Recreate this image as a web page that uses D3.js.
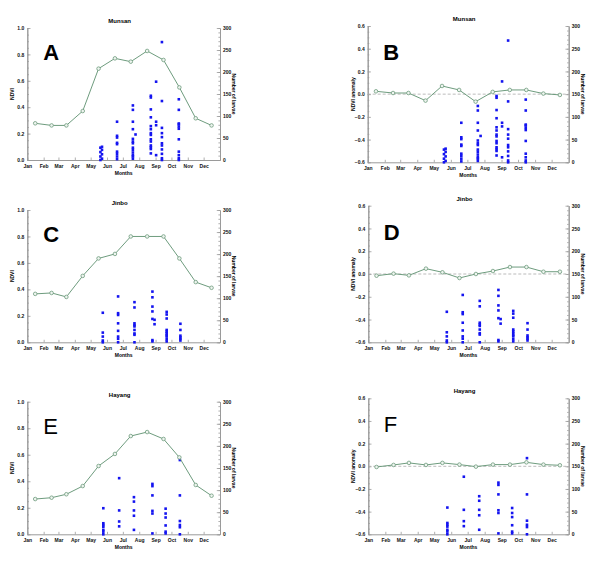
<!DOCTYPE html>
<html><head><meta charset="utf-8">
<script src="https://cdn.jsdelivr.net/npm/d3@7"></script>
<style>
body{margin:0;background:#fff}
svg{display:block}
text{font-family:"Liberation Sans",Arial,Helvetica,sans-serif}
</style>
</head><body>
<svg id="chart" width="600" height="569"></svg>
<script>
// ---------- DATA ----------
const monthLabels = ["Jan","Feb","Mar","Apr","May","Jun","Jul","Aug","Sep","Oct","Nov","Dec"];
const monthStartDays = [0,31,59,90,120,151,181,212,243,273,304,334];
const monthMidDays = [15,46,74,105,135,166,196,227,258,288,319,349];

const ndviTicks = [0,0.2,0.4,0.6,0.8,1.0];
const anomTicks = [-0.6,-0.4,-0.2,0,0.2,0.4,0.6];
const larvaeTicks = [0,50,100,150,200,250,300];

const ndviMunsan = [0.278,0.262,0.262,0.371,0.692,0.770,0.745,0.826,0.758,0.550,0.316,0.262];
const ndviJinbo  = [0.366,0.373,0.343,0.502,0.634,0.668,0.800,0.800,0.800,0.634,0.455,0.412];
const ndviHayang = [0.266,0.276,0.302,0.364,0.515,0.606,0.741,0.771,0.719,0.580,0.372,0.291];

const anomMunsan = [0.025,0.010,0.010,-0.057,0.072,0.037,-0.066,0.020,0.037,0.037,0.005,-0.007];
const anomJinbo  = [-0.015,0.003,-0.012,0.047,0.015,-0.035,0.000,0.026,0.061,0.061,0.020,0.020];
const anomHayang = [-0.006,0.012,0.030,0.012,0.030,0.015,-0.003,0.015,0.015,0.035,0.015,0.009];

// larval counts per sampling day (day of year)
const larvaeMunsan = [
  {day:138.5, counts:[28,18,8,0]},
  {day:141.5, counts:[30,23,13,3]},
  {day:170, counts:[87,55,51,39,36,19,14,8,2]},
  {day:200, counts:[124,114,87,70,48,42,38,28,23,17,11,8,3]},
  {day:205, counts:[58]},
  {day:234, counts:[146,142,115,97,77,70,61,57,47,42,33,29,25,15]},
  {day:244, counts:[178,87,79,11]},
  {day:255, counts:[268,134,73,61,52,38,33,24,14,4,0]},
  {day:287, counts:[138,114,83,81,76,71,47,19,11,4,0]}
];
const larvaeJinbo = [
  {day:143, counts:[67,22,13,4,0]},
  {day:172, counts:[104,66,62,43,26,13,8,0]},
  {day:203, counts:[91,79,43,39,36,28,20,17,0]},
  {day:237, counts:[115,102,81,70,53,5,2]},
  {day:241, counts:[51,41]},
  {day:264, counts:[69,63,54,28,24,20,16,13,7,2]},
  {day:290, counts:[42,28,15,11,8,4]}
];
const larvaeHayang = [
  {day:144, counts:[59,25,21,17,10,6,0]},
  {day:174, counts:[127,54,29,18]},
  {day:202, counts:[84,74,54,42,10]},
  {day:237, counts:[114,109,88,53,47,2]},
  {day:262, counts:[58,47,38,20,6,2]},
  {day:289, counts:[168,88,30,21,16,0]}
];

// ---------- LAYOUT ----------
const panels = [
  {letter:"A", bold:true,  title:"Munsan", kind:"ndvi", series:ndviMunsan, larvae:larvaeMunsan, x0:27.3, x1:220,   y0:28,    y1:160},
  {letter:"B", bold:true,  title:"Munsan", kind:"anom", series:anomMunsan, larvae:larvaeMunsan, x0:367.7,x1:568.7, y0:26,    y1:162.3},
  {letter:"C", bold:true,  title:"Jinbo",  kind:"ndvi", series:ndviJinbo,  larvae:larvaeJinbo,  x0:27.3, x1:220,   y0:210,   y1:342.3},
  {letter:"D", bold:true,  title:"Jinbo",  kind:"anom", series:anomJinbo,  larvae:larvaeJinbo,  x0:368.3,x1:568.7, y0:205.7, y1:342.3},
  {letter:"E", bold:false, title:"Hayang", kind:"ndvi", series:ndviHayang, larvae:larvaeHayang, x0:27.3, x1:220,   y0:401.7, y1:534.3},
  {letter:"F", bold:false, title:"Hayang", kind:"anom", series:anomHayang, larvae:larvaeHayang, x0:368.3,x1:568.7, y0:398.3, y1:534.3}
];

const axisColor = "#9a9a9a";
const lineColor = "#6e9c7e";
const svg = d3.select("#chart");

function styleAxis(g){
  g.selectAll("path.domain").attr("stroke",axisColor).attr("stroke-width",1);
  g.selectAll(".tick line").attr("stroke",axisColor).attr("stroke-width",0.8);
  g.selectAll(".tick text").attr("fill","#111").attr("font-size","5px").attr("font-weight","bold")
    .attr("font-family","'Liberation Sans',Arial,sans-serif");
}

panels.forEach(p => {
  const g = svg.append("g");
  const x = d3.scaleLinear().domain([0,365]).range([p.x0,p.x1]);
  const yL = p.kind==="ndvi" ? d3.scaleLinear().domain([0,1]).range([p.y1,p.y0])
                             : d3.scaleLinear().domain([-0.6,0.6]).range([p.y1,p.y0]);
  const yR = d3.scaleLinear().domain([0,300]).range([p.y1,p.y0]);
  const lTicks = p.kind==="ndvi" ? ndviTicks : anomTicks;
  const lMinor = d3.range(0, Math.round((yL.domain()[1]-yL.domain()[0])/0.05)+1).map(i => yL.domain()[0]+i*0.05);
  const rMinor = d3.range(0,301,10);

  // minor ticks
  g.append("g").attr("transform",`translate(${p.x0},0)`)
    .call(d3.axisLeft(yL).tickValues(lMinor).tickSize(-1.6).tickSizeOuter(0).tickFormat(""))
    .call(styleAxis);
  g.append("g").attr("transform",`translate(${p.x1},0)`)
    .call(d3.axisRight(yR).tickValues(rMinor).tickSize(-1.6).tickSizeOuter(0).tickFormat(""))
    .call(styleAxis);

  // major axes
  g.append("g").attr("transform",`translate(${p.x0},0)`)
    .call(d3.axisLeft(yL).tickValues(lTicks).tickSize(-3.2).tickSizeOuter(0).tickPadding(3)
      .tickFormat(d3.format(".1f")))
    .call(styleAxis);
  g.append("g").attr("transform",`translate(${p.x1},0)`)
    .call(d3.axisRight(yR).tickValues(larvaeTicks).tickSize(-3.2).tickSizeOuter(0).tickPadding(3)
      .tickFormat(d3.format("d")))
    .call(styleAxis);
  g.append("g").attr("transform",`translate(0,${p.y1})`)
    .call(d3.axisBottom(x).tickValues(monthStartDays).tickSize(-2.5).tickSizeOuter(0).tickPadding(4)
      .tickFormat((d,i)=>monthLabels[i]))
    .call(styleAxis);

  // zero dashed line for anomaly
  if (p.kind==="anom") {
    g.append("line").attr("x1",p.x0).attr("x2",p.x1).attr("y1",yL(0)).attr("y2",yL(0))
      .attr("stroke","#aaaaaa").attr("stroke-width",0.8).attr("stroke-dasharray","3,2");
  }

  // larvae squares
  const pts = [];
  p.larvae.forEach(c => c.counts.forEach(v => pts.push({day:c.day, v})));
  g.append("g").selectAll("rect").data(pts).join("rect")
    .attr("x", d => x(d.day)-1.3).attr("y", d => yR(d.v)-1.3)
    .attr("width",2.6).attr("height",2.6).attr("fill","#1414f0");

  // NDVI line
  const line = d3.line().x((d,i)=>x(monthMidDays[i])).y(d=>yL(d));
  g.append("path").datum(p.series).attr("d",line).attr("fill","none")
    .attr("stroke",lineColor).attr("stroke-width",1);
  g.append("g").selectAll("circle").data(p.series).join("circle")
    .attr("cx",(d,i)=>x(monthMidDays[i])).attr("cy",d=>yL(d)).attr("r",1.8)
    .attr("fill","#eef4ef").attr("stroke",lineColor).attr("stroke-width",0.8);

  // titles and labels
  const cx = (p.x0+p.x1)/2, cy = (p.y0+p.y1)/2;
  g.append("text").attr("x",cx-4).attr("y",p.y0-5).attr("text-anchor","middle")
    .attr("font-size","6px").attr("font-weight","bold").text(p.title);
  g.append("text").attr("x",cx).attr("y",p.y1+15).attr("text-anchor","middle")
    .attr("font-size","5px").attr("font-weight","bold").text("Months");
  g.append("text").attr("transform",`translate(${p.x0-13},${cy}) rotate(-90)`).attr("text-anchor","middle")
    .attr("font-size","5px").attr("font-weight","bold").text(p.kind==="ndvi"?"NDVI":"NDVI anomaly");
  g.append("text").attr("transform",`translate(${p.x1+12},${cy}) rotate(90)`).attr("text-anchor","middle")
    .attr("font-size","5px").attr("font-weight","bold").text("Number of larvae");
  g.append("text").attr("x",p.x0+(p.kind==="ndvi"?16:15.5)).attr("y",p.y0+ (p.kind==="ndvi"?32:34))
    .attr("font-size","22px").attr("font-weight",p.bold?"bold":"normal").attr("fill","#000").text(p.letter);
});
</script>
</body></html>
